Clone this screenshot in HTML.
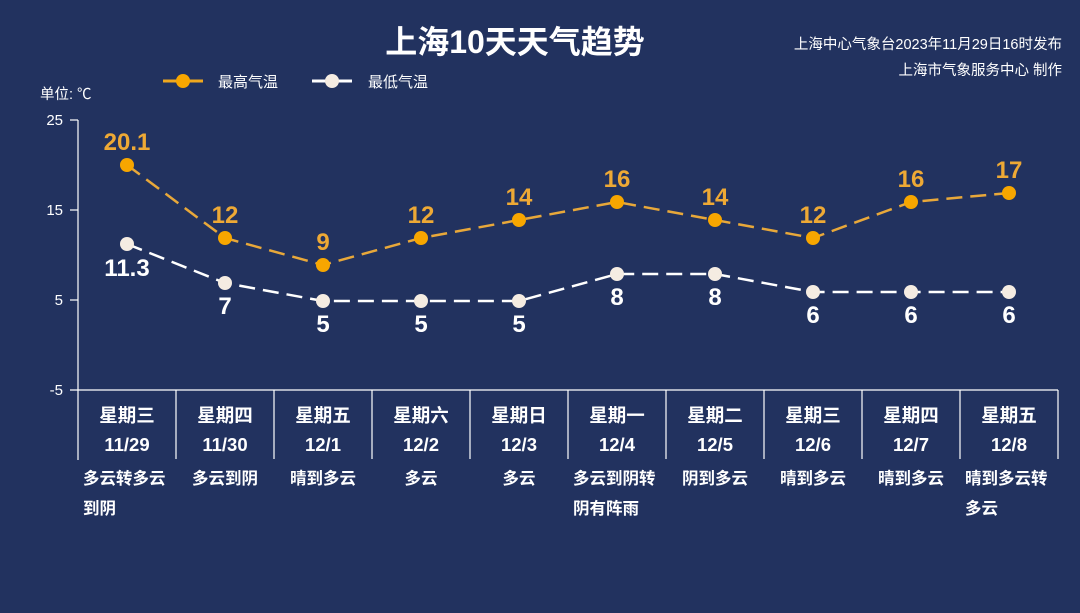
<!DOCTYPE html>
<html><head><meta charset="utf-8"><style>
body{margin:0;background:#22325f;}
svg{display:block;font-family:"Liberation Sans","Noto Sans CJK SC",sans-serif;}
</style></head><body>
<svg width="1080" height="613" viewBox="0 0 1080 613">
<rect width="1080" height="613" fill="#22325f"/>
<text x="515" y="53" fill="#fff" font-size="32" font-weight="bold" text-anchor="middle">上海10天天气趋势</text>
<text x="1062" y="49" fill="#fff" font-size="14.5" text-anchor="end">上海中心气象台2023年11月29日16时发布</text>
<text x="1062" y="75" fill="#fff" font-size="14.5" text-anchor="end">上海市气象服务中心 制作</text>
<line x1="163" y1="81" x2="203" y2="81" stroke="#f0a81e" stroke-width="3"/>
<circle cx="183" cy="81" r="7" fill="#f7a600"/>
<text x="218" y="87" fill="#fff" font-size="15">最高气温</text>
<line x1="312" y1="81" x2="352" y2="81" stroke="#fff" stroke-width="3"/>
<circle cx="332" cy="81" r="7" fill="#f5ece2"/>
<text x="368" y="87" fill="#fff" font-size="15">最低气温</text>
<text x="40" y="99" fill="#fff" font-size="14.5">单位: ℃</text>
<g stroke="#fff" stroke-width="1.2">
<line x1="78" y1="120" x2="78" y2="460"/>
<line x1="70" y1="120" x2="78" y2="120"/><line x1="70" y1="210" x2="78" y2="210"/>
<line x1="70" y1="300" x2="78" y2="300"/><line x1="70" y1="390" x2="1058" y2="390"/>
<line x1="176" y1="390" x2="176" y2="459"/><line x1="274" y1="390" x2="274" y2="459"/>
<line x1="372" y1="390" x2="372" y2="459"/><line x1="470" y1="390" x2="470" y2="459"/>
<line x1="568" y1="390" x2="568" y2="459"/><line x1="666" y1="390" x2="666" y2="459"/>
<line x1="764" y1="390" x2="764" y2="459"/><line x1="862" y1="390" x2="862" y2="459"/>
<line x1="960" y1="390" x2="960" y2="459"/><line x1="1058" y1="390" x2="1058" y2="459"/>
</g>
<g fill="#fff" font-size="15" text-anchor="end">
<text x="63" y="125">25</text><text x="63" y="215">15</text><text x="63" y="305">5</text><text x="63" y="395">-5</text>
</g>
<polyline points="127,165 225,238 323,265 421,238 519,220 617,202 715,220 813,238 911,202 1009,193" fill="none" stroke="#e8a83a" stroke-width="2.5" stroke-dasharray="16,8"/>
<polyline points="127,244 225,283 323,301 421,301 519,301 617,274 715,274 813,292 911,292 1009,292" fill="none" stroke="#fff" stroke-width="2.5" stroke-dasharray="16,8"/>
<g fill="#f7a600">
<circle cx="127" cy="165" r="7"/><circle cx="225" cy="238" r="7"/><circle cx="323" cy="265" r="7"/><circle cx="421" cy="238" r="7"/><circle cx="519" cy="220" r="7"/><circle cx="617" cy="202" r="7"/><circle cx="715" cy="220" r="7"/><circle cx="813" cy="238" r="7"/><circle cx="911" cy="202" r="7"/><circle cx="1009" cy="193" r="7"/>
</g>
<g fill="#f5ece2">
<circle cx="127" cy="244" r="7"/><circle cx="225" cy="283" r="7"/><circle cx="323" cy="301" r="7"/><circle cx="421" cy="301" r="7"/><circle cx="519" cy="301" r="7"/><circle cx="617" cy="274" r="7"/><circle cx="715" cy="274" r="7"/><circle cx="813" cy="292" r="7"/><circle cx="911" cy="292" r="7"/><circle cx="1009" cy="292" r="7"/>
</g>
<g fill="#eea935" font-size="24" font-weight="bold" text-anchor="middle">
<text x="127" y="150">20.1</text><text x="225" y="223">12</text><text x="323" y="250">9</text><text x="421" y="223">12</text><text x="519" y="205">14</text><text x="617" y="187">16</text><text x="715" y="205">14</text><text x="813" y="223">12</text><text x="911" y="187">16</text><text x="1009" y="178">17</text>
</g>
<g fill="#fff" font-size="24" font-weight="bold" text-anchor="middle">
<text x="127" y="276">11.3</text><text x="225" y="314">7</text><text x="323" y="332">5</text><text x="421" y="332">5</text><text x="519" y="332">5</text><text x="617" y="305">8</text><text x="715" y="305">8</text><text x="813" y="323">6</text><text x="911" y="323">6</text><text x="1009" y="323">6</text>
</g>
<g fill="#fff" font-size="18.5" font-weight="bold" text-anchor="middle">
<text x="127" y="422">星期三</text><text x="225" y="422">星期四</text><text x="323" y="422">星期五</text><text x="421" y="422">星期六</text><text x="519" y="422">星期日</text><text x="617" y="422">星期一</text><text x="715" y="422">星期二</text><text x="813" y="422">星期三</text><text x="911" y="422">星期四</text><text x="1009" y="422">星期五</text>
<text x="127" y="451">11/29</text><text x="225" y="451">11/30</text><text x="323" y="451">12/1</text><text x="421" y="451">12/2</text><text x="519" y="451">12/3</text><text x="617" y="451">12/4</text><text x="715" y="451">12/5</text><text x="813" y="451">12/6</text><text x="911" y="451">12/7</text><text x="1009" y="451">12/8</text>
</g>
<g fill="#fff" font-size="16.5" font-weight="bold">
<text x="83" y="484">多云转多云</text><text x="83" y="514">到阴</text>
<text x="225" y="484" text-anchor="middle">多云到阴</text>
<text x="323" y="484" text-anchor="middle">晴到多云</text>
<text x="421" y="484" text-anchor="middle">多云</text>
<text x="519" y="484" text-anchor="middle">多云</text>
<text x="573" y="484">多云到阴转</text><text x="573" y="514">阴有阵雨</text>
<text x="715" y="484" text-anchor="middle">阴到多云</text>
<text x="813" y="484" text-anchor="middle">晴到多云</text>
<text x="911" y="484" text-anchor="middle">晴到多云</text>
<text x="965" y="484">晴到多云转</text><text x="965" y="514">多云</text>
</g>
</svg>
</body></html>
